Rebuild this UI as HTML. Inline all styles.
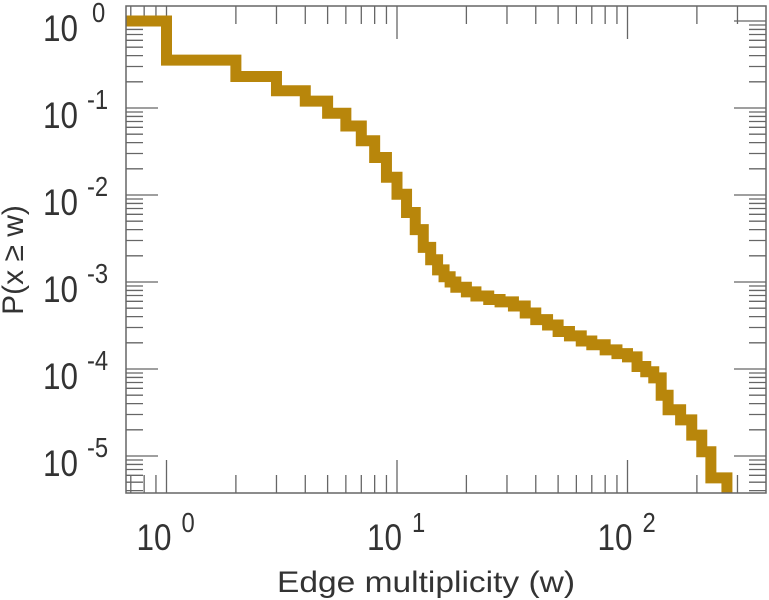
<!DOCTYPE html>
<html><head><meta charset="utf-8"><style>
body{margin:0;background:#fff;}
svg{display:block;font-family:"Liberation Sans",sans-serif;}
</style></head><body>
<svg id="chart" width="769" height="600">
<text x="426" y="592" text-anchor="middle" font-size="30" fill="#333" textLength="298" lengthAdjust="spacingAndGlyphs">Edge multiplicity (w)</text>
<text transform="translate(23,260) rotate(-90)" text-anchor="middle" font-size="30" fill="#333">P(x ≥ w)</text>
</svg>
<script>
const stepW = [0.667,1,2,3,4,5,6,7,8,9,10,11,12,13,14,15,16,17,18,20,22,25,28,32,36,40,45,50,56,63,70,80,90,100,110,120,130,140,150,170,190,210,230];
const stepP = [1,0.355,0.23,0.158,0.12,0.087,0.062,0.042,0.027,0.016,0.0102,0.0063,0.004,0.0025,0.0018,0.00138,0.00115,0.001,0.00087,0.00077,0.00069,0.00063,0.00059,0.00053,0.00044,0.00037,0.00032,0.00027,0.00024,0.00021,0.00019,0.000166,0.00015,0.000138,0.000107,0.000093,0.000079,0.00005,0.000034,0.000026,0.0000174,0.0000112,0.0000056];
const lastW = 270;
const xTickExp = [0,1,2];
const yTickExp = [0,-1,-2,-3,-4,-5];

const NS="http://www.w3.org/2000/svg";
const svg=document.getElementById('chart');
const L=126,R=766,T=6,B=493;
const xs=w=>166.5+230.5*Math.log10(w);
const ys=p=>21-87*Math.log10(p);
function mk(tag,attrs,parent){const e=document.createElementNS(NS,tag);for(const k in attrs)e.setAttribute(k,attrs[k]);(parent||svg).appendChild(e);return e;}

const g=mk('g',{stroke:'#666','stroke-width':1.3});


for(let k=-1;k<=2;k++){for(let m=1;m<=9;m++){const w=m*Math.pow(10,k);const x=xs(w);if(x<L+1||x>R-1)continue;const len=m===1?33:18;
mk('line',{x1:x,y1:T,x2:x,y2:T+len},g);mk('line',{x1:x,y1:B,x2:x,y2:B-len},g);}}
for(let k=-6;k<=0;k++){for(let m=1;m<=9;m++){const p=m*Math.pow(10,k);const y=ys(p);if(y<T+1||y>B-1)continue;const len=m===1?32:17;
mk('line',{x1:L,y1:y,x2:L+len,y2:y},g);mk('line',{x1:R,y1:y,x2:R-len,y2:y},g);}}

let d='M'+L+' '+ys(stepP[0]);
for(let i=1;i<stepW.length;i++){const x=xs(stepW[i]);d+=' H'+x+' V'+ys(stepP[i]);}
d+=' H'+xs(lastW)+' V'+B;
const line=mk('path',{d:d,fill:'none',stroke:'#b8860b','stroke-width':11,'stroke-linejoin':'miter','stroke-linecap':'butt'});



const frame=mk('rect',{x:L,y:T,width:R-L,height:B-T,fill:'none',stroke:'#666','stroke-width':1.5});



function label(x0,base,supX,supBase,exp,name){
  const t=mk('text',{transform:'translate('+x0+','+base+') scale(0.85,1)','font-size':37,fill:'#333'});
  
  
  t.textContent='10';
  const s=mk('text',{transform:'translate('+supX+','+supBase+') scale(0.85,1)','font-size':28,fill:'#333'});
  
  
  s.textContent=(exp<0?'-':'')+Math.abs(exp);
}
xTickExp.forEach(e=>{const x=xs(Math.pow(10,e));label(x-30,550,x+15,532,e,'x-tick-label');});
yTickExp.forEach(e=>{const y=ys(Math.pow(10,e));label(43,y+20,e<0?87:92,y+1,e,'y-tick-label');});
</script>
</body></html>
